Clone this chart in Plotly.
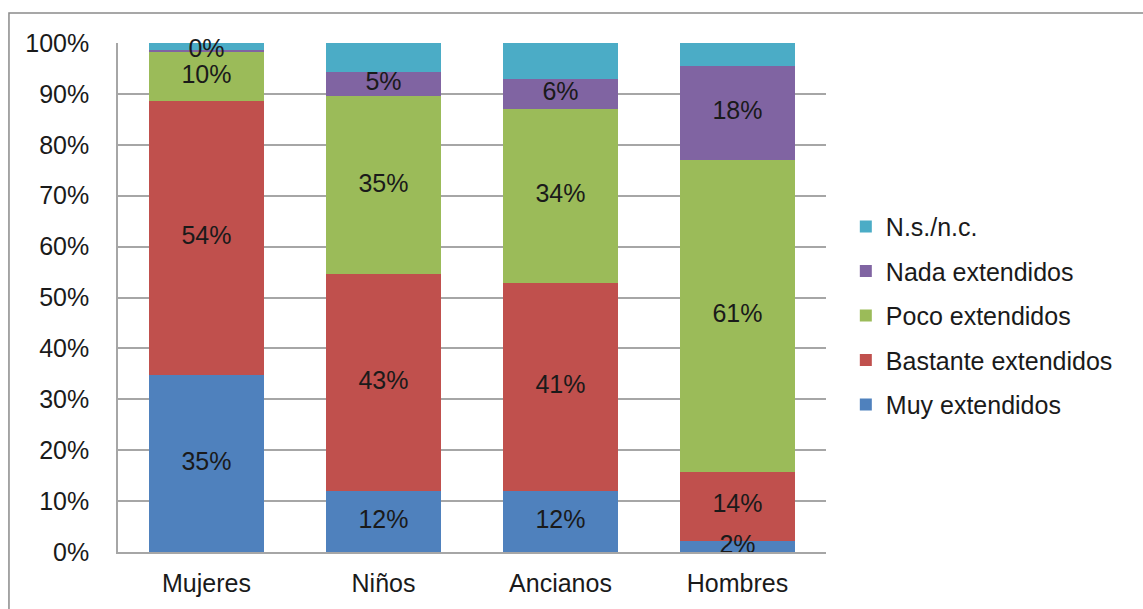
import plotly.graph_objects as go

categories = ["Mujeres", "Niños", "Ancianos", "Hombres"]
muy = [34.8, 12.0, 12.0, 2.2]
bastante = [53.8, 42.6, 40.8, 13.6]
poco = [9.6, 34.9, 34.2, 61.3]
nada = [0.4, 4.8, 5.9, 18.3]
ns = [1.4, 5.7, 7.1, 4.6]
y_ticks = list(range(0, 101, 10))
y_tick_labels = [f"{v}%" for v in y_ticks]

series = [
    ("Muy extendidos", muy, "#4F81BD", True),
    ("Bastante extendidos", bastante, "#C0504D", True),
    ("Poco extendidos", poco, "#9BBB59", True),
    ("Nada extendidos", nada, "#8064A2", True),
    ("N.s./n.c.", ns, "#4BACC6", False),
]

FONT = "Liberation Sans, Arial"
fig = go.Figure()
base = [0.0] * len(categories)
label_traces = []
for i, (name, vals, color, lab) in enumerate(series):
    fig.add_trace(go.Bar(
        x=categories, y=vals, name=name, marker_color=color,
        marker_line_width=0,
        legendgroup=f"g{i}",
        legendrank=10 - i,
    ))
    if lab:
        mids = [b + v / 2 for b, v in zip(base, vals)]
        label_traces.append(go.Scatter(
            x=categories, y=mids, mode="text",
            text=[f"{v:.0f}%" for v in vals],
            textposition="middle center",
            textfont=dict(size=25, color="#1a1a1a", family=FONT),
            showlegend=False, hoverinfo="skip", cliponaxis=False,
        ))
    base = [b + v for b, v in zip(base, vals)]
for t in label_traces:
    fig.add_trace(t)

fig.update_layout(
    barmode="stack",
    bargap=0.355,
    width=1143, height=609,
    paper_bgcolor="white", plot_bgcolor="white",
    margin=dict(l=118, r=317, t=43, b=57),
    font=dict(family=FONT, size=25, color="#1a1a1a"),
    legend=dict(
        x=1.028, y=0.684, xanchor="left", yanchor="top",
        traceorder="grouped", tracegroupgap=9,
        font=dict(size=25, color="#1a1a1a", family=FONT),
        bgcolor="rgba(0,0,0,0)",
    ),
    showlegend=True,
    shapes=[dict(type="rect", xref="paper", yref="paper",
                 x0=-0.154, x1=1.47, y0=-0.25, y1=1.059,
                 line=dict(color="#8a8a8a", width=1.5), layer="below")],
)
fig.update_yaxes(
    range=[0, 100], tickmode="array", tickvals=y_ticks, ticktext=y_tick_labels,
    showgrid=True, gridcolor="#A6A6A6", gridwidth=1.5,
    showline=True, linecolor="#A6A6A6", linewidth=1.5,
    zeroline=False, ticklabelstandoff=22,
    tickfont=dict(size=25),
)
fig.update_xaxes(
    showline=True, linecolor="#A6A6A6", linewidth=1.5,
    ticks="", tickfont=dict(size=25), ticklabelstandoff=8,
)

fig.write_html("out.html", config={"displayModeBar": False},
               post_script="document.body.style.margin='0px';document.body.style.overflow='hidden';")
